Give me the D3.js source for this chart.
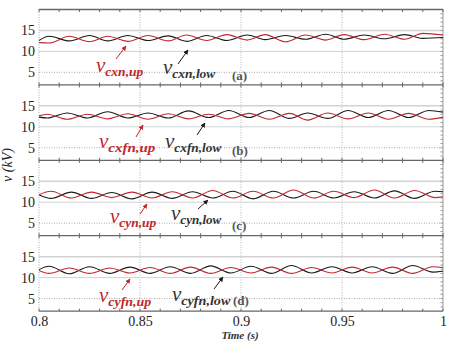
<!DOCTYPE html>
<html>
<head>
<meta charset="utf-8">
<script src="https://cdn.jsdelivr.net/npm/d3@7"></script>
<style>
  body { margin: 0; background: #fff; }
  svg { display: block; font-family: "Liberation Serif", "Times New Roman", serif; }
</style>
</head>
<body>
<svg id="chart"></svg>
<script>
const width = 449;
const height = 342;

// axis ticks
const xTicks = [0.8, 0.85, 0.9, 0.95, 1];
const yTicks = [5, 10, 15];
const panelTags = ["(a)", "(b)", "(c)", "(d)"];
const upNames = ["cxn,up", "cxfn,up", "cyn,up", "cyfn,up"];
const lowNames = ["cxn,low", "cxfn,low", "cyn,low", "cyfn,low"];

// (a) peaks / troughs
const tA = [0.800, 0.805, 0.815, 0.825, 0.834, 0.844, 0.854, 0.864, 0.873, 0.883, 0.893, 0.903, 0.912, 0.922, 0.932, 0.942, 0.951, 0.961, 0.971, 0.981, 0.990, 1.000];
const lowA = [12.6, 13.6, 12.5, 13.8, 12.5, 13.8, 12.6, 13.7, 12.4, 13.8, 12.6, 13.9, 12.8, 13.8, 12.9, 14.1, 12.9, 13.9, 13.0, 14.0, 13.1, 13.3];
const upA = [12.1, 12.0, 13.6, 12.3, 13.6, 12.4, 13.8, 12.5, 13.9, 12.6, 14.0, 12.7, 14.0, 12.3, 13.9, 12.7, 14.0, 12.8, 14.1, 12.9, 14.3, 13.9];

// (b)
const tB = [0.800, 0.804, 0.814, 0.824, 0.834, 0.844, 0.854, 0.864, 0.874, 0.884, 0.894, 0.904, 0.914, 0.924, 0.933, 0.943, 0.953, 0.963, 0.973, 0.983, 0.993, 1.000];
const lowB = [12.3, 12.1, 13.3, 12.1, 13.6, 12.1, 13.3, 12.1, 13.8, 12.2, 13.9, 12.2, 13.9, 12.0, 13.3, 12.0, 13.9, 12.2, 13.9, 12.2, 13.9, 13.5];
const upB = [12.6, 13.0, 11.8, 13.0, 11.9, 13.1, 11.8, 13.1, 11.9, 13.0, 11.9, 13.2, 11.8, 13.2, 11.6, 13.3, 11.9, 13.3, 11.8, 13.2, 11.8, 12.3];

// (c)
const tC = [0.800, 0.806, 0.816, 0.826, 0.836, 0.846, 0.856, 0.866, 0.876, 0.886, 0.896, 0.906, 0.916, 0.926, 0.936, 0.946, 0.956, 0.966, 0.976, 0.986, 0.996, 1.000];
const lowC = [11.8, 10.9, 12.4, 10.9, 12.3, 10.8, 12.4, 10.9, 12.5, 11.0, 12.6, 10.8, 12.6, 11.0, 12.6, 11.0, 12.5, 11.0, 12.7, 10.9, 12.6, 12.5];
const upC = [11.8, 12.6, 11.0, 12.4, 11.1, 12.4, 11.0, 12.5, 11.0, 12.8, 11.0, 12.6, 11.0, 12.9, 11.0, 12.6, 11.1, 12.9, 11.0, 12.8, 11.1, 11.3];

// (d)
const tD = [0.800, 0.805, 0.815, 0.825, 0.835, 0.845, 0.855, 0.865, 0.875, 0.885, 0.895, 0.905, 0.915, 0.925, 0.935, 0.945, 0.955, 0.965, 0.975, 0.985, 0.995, 1.000];
const lowD = [11.9, 12.7, 10.9, 12.6, 11.0, 12.5, 11.0, 12.6, 11.0, 12.8, 11.1, 12.7, 11.0, 12.9, 11.1, 12.6, 11.1, 12.6, 11.0, 12.9, 11.3, 11.5];
const upD = [11.7, 11.0, 12.3, 11.0, 12.3, 11.1, 12.4, 11.0, 12.5, 11.0, 12.4, 11.1, 12.5, 11.0, 12.4, 11.1, 12.5, 11.1, 12.5, 11.0, 12.6, 12.4];

const times = [tA, tB, tC, tD];
const ups = [upA, upB, upC, upD];
const lows = [lowA, lowB, lowC, lowD];

const red = "#c1272d";
const black = "#1a1a1a";

// where the annotations sit, per panel
const notes = [
  { up: [96, 72], upW: 49, low: [163, 74], lowW: 54, upArrow: [116, 59, 126, 46], lowArrow: [178, 64, 188, 50], tag: [232, 80] },
  { up: [99, 148], upW: 58, low: [165, 148], lowW: 58, upArrow: [136, 137, 143, 125], lowArrow: [197, 135, 205, 123], tag: [232, 155] },
  { up: [110, 223], upW: 48, low: [171, 220], lowW: 52, upArrow: [140, 214, 147, 204], lowArrow: [198, 209, 208, 200], tag: [232, 230] },
  { up: [99, 302], upW: 54, low: [172, 301], lowW: 60, upArrow: [122, 290, 130, 279], lowArrow: [214, 289, 223, 277], tag: [233, 305] }
];

const left = 39, right = 443, top0 = 9.5, panelH = 75.4;

let svg = d3.select("#chart").attr("width", width).attr("height", height);

const x = d3.scaleLinear().domain([0.8, 1]).range([left, right]);

let defs = svg.append("defs");
[["arrRed", red], ["arrBlack", black]].forEach(([id, c]) => {
  defs.append("marker")
    .attr("id", id).attr("viewBox", "0 0 10 10")
    .attr("refX", 9).attr("refY", 5)
    .attr("markerWidth", 5).attr("markerHeight", 5)
    .attr("orient", "auto")
    .append("path").attr("d", "M0,0 L10,5 L0,10 z").attr("fill", c);
});

const bottom = top0 + panelH * 4;

// vertical dotted grid
svg.append("g").selectAll("line")
  .data([0.85, 0.9, 0.95])
  .enter().append("line")
  .attr("x1", d => x(d)).attr("x2", d => x(d))
  .attr("y1", top0).attr("y2", bottom)
  .attr("stroke", "#b5b5b5").attr("stroke-width", 1)
  .attr("stroke-dasharray", "1,1.5");

// left dotted border, right solid border
svg.append("line").attr("x1", left).attr("x2", left).attr("y1", top0).attr("y2", bottom)
  .attr("stroke", "#aaa").attr("stroke-dasharray", "1,1.5");
svg.append("line").attr("x1", right).attr("x2", right).attr("y1", top0).attr("y2", bottom)
  .attr("stroke", "#999");

const minorX = d3.range(0.8, 1.0001, 0.01);

times.forEach((t, i) => {
  const top = top0 + panelH * i;
  const y = d3.scaleLinear().domain([2, 20]).range([top + panelH, top]);
  let g = svg.append("g");

  // horizontal grid
  g.selectAll(".grid")
    .data(yTicks)
    .enter().append("line")
    .attr("x1", left).attr("x2", right)
    .attr("y1", d => y(d)).attr("y2", d => y(d))
    .attr("stroke", d => d === 5 ? "#aaa" : "#d2d2d2")
    .attr("stroke-width", d => d === 15 ? 1.5 : 1)
    .attr("stroke-dasharray", d => d === 5 ? "1,1.5" : null);

  // right minor ticks
  g.selectAll(".rt")
    .data(d3.range(3, 20, 1))
    .enter().append("line")
    .attr("x1", right - 2.5).attr("x2", right)
    .attr("y1", d => y(d)).attr("y2", d => y(d))
    .attr("stroke", "#999");

  // y tick labels
  g.append("g")
    .attr("transform", `translate(${left},0)`)
    .call(d3.axisLeft(y).tickValues(yTicks).tickSize(0).tickPadding(4))
    .call(a => a.select(".domain").remove())
    .selectAll("text")
    .attr("font-family", "Liberation Serif, serif")
    .attr("font-size", 14).attr("fill", "#222");

  const line = d3.line()
    .x((d, k) => x(t[k]))
    .y(d => y(d))
    .curve(d3.curveMonotoneX);

  g.append("path").datum(lows[i]).attr("d", line)
    .attr("fill", "none").attr("stroke", black).attr("stroke-width", 1.1);
  g.append("path").datum(ups[i]).attr("d", line)
    .attr("fill", "none").attr("stroke", red).attr("stroke-width", 1.1);

  // annotations
  const n = notes[i];
  const label = (pos, w, name, color) => {
    let tx = g.append("text").attr("x", pos[0]).attr("y", pos[1]).attr("fill", color);
    tx.append("tspan").text("v")
      .attr("font-style", "italic").attr("font-size", 21);
    tx.append("tspan").text(name)
      .attr("font-style", "italic").attr("font-weight", "bold")
      .attr("font-size", 12.5).attr("dy", 4)
      .attr("textLength", w - 11).attr("lengthAdjust", "spacingAndGlyphs");
  };
  label(n.up, n.upW, upNames[i], red);
  label(n.low, n.lowW, lowNames[i], "#333");

  g.append("line")
    .attr("x1", n.upArrow[0]).attr("y1", n.upArrow[1])
    .attr("x2", n.upArrow[2]).attr("y2", n.upArrow[3])
    .attr("stroke", red).attr("stroke-width", 1)
    .attr("marker-end", "url(#arrRed)");
  g.append("line")
    .attr("x1", n.lowArrow[0]).attr("y1", n.lowArrow[1])
    .attr("x2", n.lowArrow[2]).attr("y2", n.lowArrow[3])
    .attr("stroke", black).attr("stroke-width", 1)
    .attr("marker-end", "url(#arrBlack)");

  g.append("text").attr("x", n.tag[0]).attr("y", n.tag[1])
    .text(panelTags[i])
    .attr("font-weight", "bold").attr("font-size", 13).attr("fill", "#555");
});

// panel separators with minor ticks
d3.range(5).forEach(i => {
  const yy = top0 + panelH * i;
  svg.append("line").attr("x1", left).attr("x2", right).attr("y1", yy).attr("y2", yy)
    .attr("stroke", "#666").attr("stroke-width", 1.3);
  svg.append("g").selectAll("line")
    .data(minorX)
    .enter().append("line")
    .attr("x1", d => x(d)).attr("x2", d => x(d))
    .attr("y1", yy - (i > 0 ? 2.5 : 0)).attr("y2", yy + (i < 4 ? 2.5 : 0))
    .attr("stroke", "#666");
});

// x tick labels
svg.append("g")
  .attr("transform", `translate(0,${bottom})`)
  .call(d3.axisBottom(x).tickValues(xTicks).tickFormat(d3.format("~g")).tickSize(0).tickPadding(5))
  .call(a => a.select(".domain").remove())
  .selectAll("text")
  .attr("font-family", "Liberation Serif, serif")
  .attr("font-size", 14).attr("fill", "#222");

svg.append("text")
  .attr("x", 240).attr("y", 338.5)
  .attr("text-anchor", "middle")
  .attr("font-style", "italic").attr("font-weight", "bold").attr("font-size", 11)
  .attr("fill", "#333")
  .text("Time (s)");

svg.append("text")
  .attr("transform", "translate(12,165) rotate(-90)")
  .attr("text-anchor", "middle")
  .attr("font-style", "italic").attr("font-size", 14)
  .attr("fill", "#222")
  .text("v (kV)");
</script>
</body>
</html>
